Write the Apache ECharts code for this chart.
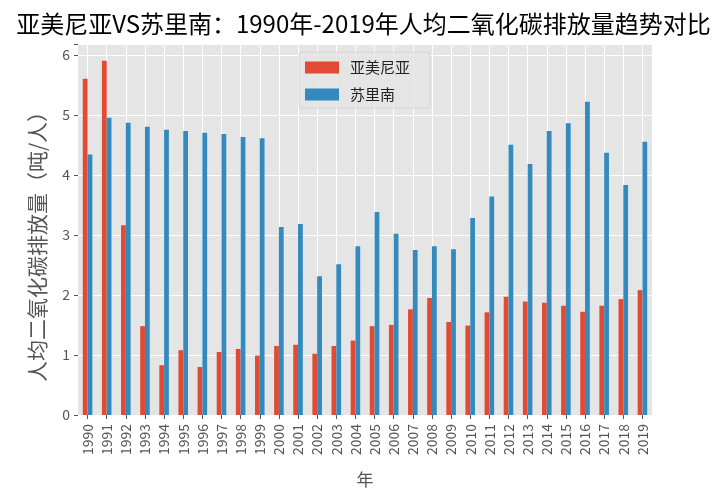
<!DOCTYPE html>
<html><head><meta charset="utf-8">
<script src="https://cdn.jsdelivr.net/npm/echarts@6/dist/echarts.min.js"></script>
<style>html,body{margin:0;padding:0;background:#fff}#c{width:727px;height:500px}</style>
</head><body><div id="c"></div>
<script>
const years = ['1990','1991','1992','1993','1994','1995','1996','1997','1998','1999','2000','2001','2002','2003','2004','2005','2006','2007','2008','2009','2010','2011','2012','2013','2014','2015','2016','2017','2018','2019'];
const armenia = [5.60,5.90,3.16,1.48,0.83,1.08,0.80,1.05,1.10,0.99,1.15,1.17,1.02,1.15,1.24,1.48,1.50,1.76,1.95,1.55,1.49,1.71,1.97,1.89,1.87,1.82,1.72,1.82,1.93,2.08];
const suriname = [4.34,4.95,4.87,4.80,4.75,4.73,4.70,4.68,4.63,4.61,3.13,3.18,2.31,2.51,2.81,3.38,3.02,2.75,2.81,2.76,3.28,3.64,4.50,4.18,4.73,4.86,5.22,4.37,3.83,4.55];
const yTicks = [0,1,2,3,4,5,6];
const seriesNames = ['亚美尼亚','苏里南'];

const font = '"Noto Sans CJK SC", "DejaVu Sans", sans-serif';
const chart = echarts.init(document.getElementById('c'));
chart.setOption({
  backgroundColor: '#ffffff',
  animation: false,
  title: {
    text: '亚美尼亚VS苏里南：1990年-2019年人均二氧化碳排放量趋势对比',
    left: 'center', top: 7,
    textStyle: {fontFamily: font, fontSize: 24, fontWeight: 'normal', color: '#000'}
  },
  legend: {
    data: seriesNames,
    left: 299, top: 52,
    orient: 'vertical',
    itemWidth: 34, itemHeight: 12, itemGap: 12,
    padding: [8, 20, 6, 6],
    backgroundColor: 'rgba(229,229,229,0.85)',
    borderColor: '#d4d4d4', borderWidth: 1, borderRadius: 3,
    textStyle: {fontFamily: font, fontSize: 15, color: '#222', padding: [0,0,0,6]},
    icon: 'rect'
  },
  grid: {left: 78, right: 75, top: 44, bottom: 85, backgroundColor: '#E5E5E5', show: true, borderWidth: 0},
  xAxis: {
    type: 'category', data: years,
    name: '年', nameLocation: 'middle', nameGap: 56,
    nameTextStyle: {fontFamily: font, fontSize: 17, color: '#555'},
    axisLine: {show: false},
    axisTick: {show: true, alignWithLabel: true, length: 4, lineStyle: {color: '#555'}},
    axisLabel: {rotate: 90, fontFamily: font, fontSize: 14, color: '#555', margin: 9},
    splitLine: {show: true, alignWithLabel: true, lineStyle: {color: '#ffffff', width: 1}}
  },
  yAxis: {
    type: 'value', min: 0, max: 6.18, interval: 1,
    name: '人均二氧化碳排放量（吨/人）', nameLocation: 'middle', nameGap: 30,
    nameTextStyle: {fontFamily: font, fontSize: 21, color: '#555', padding: [0, 24, 0, 0]},
    axisLine: {show: false},
    axisTick: {show: true, length: 4, lineStyle: {color: '#555'}},
    axisLabel: {fontFamily: font, fontSize: 14, color: '#555', margin: 8,
      formatter: v => yTicks.indexOf(v) >= 0 ? String(v) : ''},
    splitLine: {show: true, lineStyle: {color: '#ffffff', width: 1}}
  },
  series: [
    {name: seriesNames[0], type: 'bar', data: armenia, barWidth: '25%', barGap: '0%', itemStyle: {color: '#E24A33'}},
    {name: seriesNames[1], type: 'bar', data: suriname, barWidth: '25%', barGap: '0%', itemStyle: {color: '#348ABD'}}
  ]
});
</script></body></html>
